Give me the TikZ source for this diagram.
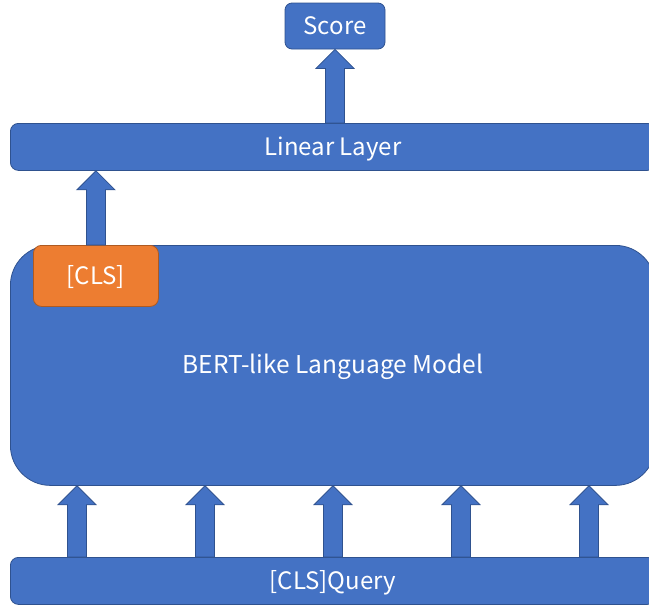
\documentclass[tikz,border=0pt]{standalone}
\usepackage{fontspec}
\setmainfont{Noto Sans CJK SC}
\usetikzlibrary{calc}
\definecolor{boxblue}{HTML}{4472C4}
\definecolor{edgeblue}{HTML}{2F528F}
\definecolor{boxorange}{HTML}{ED7D31}
\definecolor{edgeorange}{HTML}{AE5A21}
% upward block arrow from #1 (base) to #2 (tip)
\newcommand\upblock[2]{%
  \path[blockarrow] let \p1=(#1), \p2=(#2) in
    (\x1-9.5pt,\y1) -- (\x1-9.5pt,\y2-19pt) -- (\x1-19pt,\y2-19pt) -- (\x1,\y2)
    -- (\x1+19pt,\y2-19pt) -- (\x1+9.5pt,\y2-19pt) -- (\x1+9.5pt,\y1) -- cycle;}
\begin{document}
\begin{tikzpicture}[x=1pt,y=1pt,
  label text/.style={text=white, inner sep=0pt, text height=17pt, text depth=0pt,
    font=\fontsize{24}{28}\selectfont},
  box/.style={draw=edgeblue, fill=boxblue, line width=0.8pt, label text},
  clsbox/.style={draw=edgeorange, fill=boxorange, line width=0.8pt, label text,
    rounded corners=8pt},
  blockarrow/.style={draw=edgeblue, fill=boxblue, line width=0.8pt, line join=miter}]
\useasboundingbox (0,0) rectangle (649,-606);
\clip (0,0) rectangle (649,-606);

\node[box, rounded corners=7pt, minimum width=100pt, minimum height=46pt]
  (score) at (335,-26) {Score};
\node[box, rounded corners=8pt, minimum width=645pt, minimum height=47pt,
  anchor=north west] (lin) at (10,-123) {Linear Layer};
\node[box, rounded corners=40pt, minimum width=645pt, minimum height=240pt,
  anchor=north west, font=\fontsize{24.5}{28}\selectfont]
  (bert) at (10,-245) {BERT-like Language Model};
\node[clsbox, minimum width=125pt, minimum height=61pt, anchor=north west]
  (cls) at (33,-245) {[CLS]};
\node[box, rounded corners=8pt, minimum width=645pt, minimum height=47pt,
  anchor=north west] (query) at (10,-557) {[CLS]Query};

% arrows
\upblock{score.south |- lin.north}{score.south}
\upblock{cls.north}{cls.north |- lin.south}
\foreach \i/\xx in {1/77,2/205,3/333,4/461,5/589}{
  \coordinate (q\i) at (\xx,-557);
  \upblock{q\i}{q\i |- bert.south}
}
\end{tikzpicture}
\end{document}
